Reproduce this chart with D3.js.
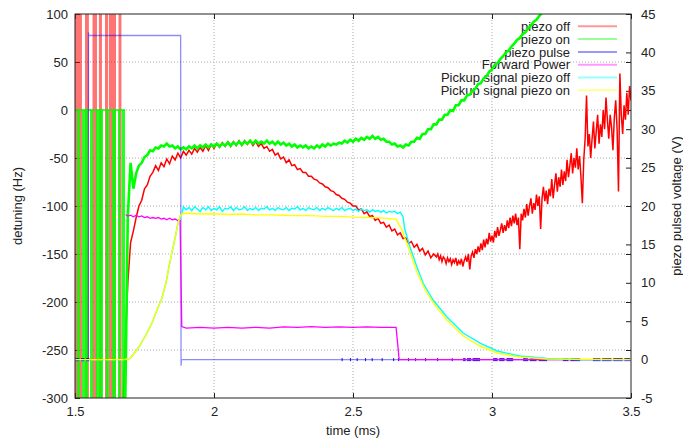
<!DOCTYPE html>
<html>
<head>
<meta charset="utf-8">
<script src="https://cdn.jsdelivr.net/npm/d3@7"></script>
<style>
  body { margin: 0; background: #fff; }
  text { font-family: "Liberation Sans", Arial, Helvetica, sans-serif; font-size: 13px; fill: #222; }
</style>
</head>
<body>
<div id="chart"></div>
<script>
// tick labels
const timeTicks = [1.5, 2, 2.5, 3, 3.5];
const detuningTicks = [-300, -250, -200, -150, -100, -50, 0, 50, 100];
const voltageTicks = [-5, 0, 5, 10, 15, 20, 25, 30, 35, 40, 45];

const legendNames = ["piezo off", "piezo on", "piezo pulse", "Forward Power",
  "Pickup signal piezo off", "Pickup signal piezo on"];
const legendColors = ["#ff0000", "#00ff00", "#0000ff", "#ff00ff", "#00ffff", "#ffff00"];

// before ~1.68 ms the detuning traces swing past the plot range: bands [t0, t1] in ms
const piezoOffBands = [[1.500, 1.525], [1.536, 1.550], [1.563, 1.579], [1.586, 1.597],
  [1.608, 1.619], [1.622, 1.6475], [1.6565, 1.667]];
const piezoOnBands = [[1.5072, 1.518], [1.525, 1.547], [1.554, 1.565], [1.5755, 1.6007],
  [1.6115, 1.6223], [1.633, 1.6475], [1.6547, 1.6619], [1.6673, 1.680]];

// piezo off detuning (Hz): from 1.67 ms every 0.01 ms ...
const piezoOffStartA = 1.67, piezoOffStepA = 0.01;
const piezoOffA = [
  -320, -250, -180, -138, -126, -112, -100, -94, -82, -78,
  -69, -65, -58, -63, -55, -59, -51, -56, -48, -52,
  -45, -50, -43, -47, -42, -46, -40, -44, -39, -43,
  -37, -42, -36, -40, -35, -39, -34, -38, -33, -38,
  -33, -37, -32, -37, -32, -36, -32, -37, -33, -38,
  -35, -40, -38, -43, -41, -47, -45, -51, -49, -55,
  -52, -58, -57, -62, -61, -65, -65, -69, -69, -72,
  -73, -76, -77, -80, -81, -84, -85, -88, -89, -92,
  -93, -96, -97, -100, -100, -104, -103, -108, -106, -111,
  -110, -115, -113, -118, -117, -122, -120, -126, -124, -130,
  -128, -134, -133, -139, -137, -143, -140, -147, -144, -151,
  -147, -154, -150
];
// ... then from 2.80 ms every 0.005 ms (noisier)
const piezoOffStartB = 2.80, piezoOffStepB = 0.005;
const piezoOffB = [
  -153, -150, -156, -152, -158, -153, -155, -160, -154, -158,
  -155, -161, -156, -159, -154, -162, -157, -160, -155, -163,
  -157, -153, -158, -150, -166, -152, -148, -154, -145, -150,
  -142, -148, -139, -146, -135, -143, -134, -140, -128, -137,
  -131, -138, -126, -133, -122, -131, -125, -118, -128, -120,
  -126, -115, -123, -112, -121, -110, -118, -108, -120, -112,
  -145, -108, -115, -103, -112, -98, -110, -100, -92, -108,
  -97, -104, -88, -100, -90, -124, -92, -80, -95, -84,
  -98, -82, -90, -72, -92, -78, -66, -85, -70, -80,
  -62, -78, -64, -74, -52, -70, -58, -45, -66, -50,
  -60, -40, -62, -48, -70, -97, -52, -30, 15, -38,
  -25, -50, -30, -12, -40, -22, -5, -35, -15, -28,
  0, -20, 13, -10, -30, -5, -18, -42, -8, 10,
  -20, -85, 38, -5, -25, 5, -10, 18, -5, 25,
  10
];

// piezo on detuning (Hz) from 1.68 ms every 0.01 ms
const piezoOnStart = 1.68, piezoOnStep = 0.01;
const piezoOn = [
  -320, -110, -55, -82, -66, -58, -55, -49, -47, -42,
  -43, -39, -40, -37, -38, -35, -38, -37, -40, -38,
  -41, -39, -41, -38, -40, -37, -40, -37, -39, -36,
  -39, -36, -38, -35, -38, -35, -37, -34, -37, -34,
  -36, -33, -36, -33, -35, -32, -35, -32, -35, -33,
  -35, -32, -35, -33, -36, -33, -36, -34, -37, -35,
  -38, -36, -39, -37, -39, -37, -40, -38, -40, -37,
  -39, -36, -38, -35, -37, -35, -36, -34, -35, -32,
  -34, -31, -33, -30, -32, -29, -31, -28, -30, -27,
  -30, -28, -31, -30, -33, -33, -36, -35, -38, -37,
  -39, -36, -37, -33, -33, -29, -30, -25, -25, -20,
  -20, -15, -15, -10, -10, -5, -5, 0, -1, 5,
  5, 10, 10, 15, 16, 20, 22, 27, 28, 33,
  35, 40, 42, 47, 49, 53, 56, 60, 62, 66,
  69, 73, 75, 79, 81, 85, 88, 92, 94, 98,
  101, 105, 109
];
// flat top of the early piezo on swings
const piezoOnFlat = [[1.5, 0], [1.68, 0]];

// piezo pulse (V)
const piezoPulse = [[1.5, 0], [1.548, 0], [1.5485, 42.6], [1.550, 42.2], [1.880, 42.2],
  [1.8815, -0.8], [1.883, 0], [3.5, 0]];
// short dark marks where the pulse trace jitters around 0 V: [t0, t1]
const pulseNoise = [[1.501, 1.5155], [1.5216, 1.5335], [1.5396, 1.5515],
  [2.459, 2.463], [2.489, 2.493], [2.513, 2.517], [2.543, 2.547], [2.567, 2.571],
  [2.603, 2.607], [2.644, 2.648], [2.662, 2.666], [2.698, 2.702], [2.723, 2.727],
  [2.759, 2.763], [2.802, 2.806], [2.855, 2.859], [2.896, 2.905], [2.910, 2.925],
  [2.930, 2.957], [3.004, 3.020], [3.026, 3.045], [3.052, 3.076], [3.112, 3.130],
  [3.136, 3.160], [3.168, 3.198], [3.255, 3.275], [3.282, 3.317], [3.363, 3.390],
  [3.396, 3.430], [3.436, 3.470], [3.476, 3.497]];

// forward power (V)
const forwardPower = [[1.682, 18.9], [1.69, 18.7], [1.70, 18.8], [1.71, 18.6], [1.72, 18.8],
  [1.73, 18.6], [1.74, 18.7], [1.75, 18.5], [1.76, 18.6], [1.77, 18.4], [1.78, 18.5],
  [1.79, 18.4], [1.80, 18.5], [1.81, 18.3], [1.82, 18.4], [1.83, 18.2], [1.84, 18.4],
  [1.85, 18.2], [1.86, 18.3], [1.87, 18.1], [1.878, 18.1], [1.884, 4.3], [1.90, 4.1],
  [1.95, 4.2], [2.00, 4.1], [2.05, 4.2], [2.10, 4.1], [2.15, 4.2], [2.20, 4.1],
  [2.25, 4.25], [2.30, 4.2], [2.35, 4.3], [2.40, 4.2], [2.45, 4.25], [2.50, 4.2],
  [2.55, 4.25], [2.60, 4.2], [2.655, 4.2], [2.666, 0], [3.5, 0]];

// pickup signals (V)
const pickupRise = [[1.5, 0], [1.676, 0], [1.698, 0.14], [1.730, 1.64], [1.755, 3.2],
  [1.777, 4.77], [1.795, 6.46], [1.813, 8.02], [1.827, 9.97], [1.838, 12.06],
  [1.849, 14.0], [1.860, 15.83], [1.870, 17.66], [1.878, 18.7], [1.885, 19.0]];
const pickupOffStart = 1.89, pickupOffStep = 0.01;
const pickupOffPlateau = [
  19.9, 19.5, 19.8, 19.4, 19.9, 19.6, 19.3, 19.8, 19.5, 19.9,
  19.4, 19.7, 19.5, 19.9, 19.3, 19.7, 19.6, 19.9, 19.4, 19.8,
  19.5, 19.6, 19.9, 19.4, 19.7, 19.5, 19.8, 19.4, 19.7, 19.6,
  19.9, 19.5, 19.7, 19.4, 19.8, 19.6, 19.5, 19.8, 19.4, 19.7,
  19.6, 19.9, 19.5, 19.7, 19.4, 19.8, 19.6, 19.5, 19.8, 19.4,
  19.7, 19.5, 19.8, 19.6, 19.4, 19.7, 19.5, 19.8, 19.4, 19.6,
  19.7, 19.4, 19.6, 19.3, 19.6, 19.4, 19.5, 19.2, 19.5, 19.3,
  19.4, 19.2, 19.4, 19.1, 19.3, 19.2, 19.3, 19.0, 19.2
];
const pickupOffDecay = [[2.680, 18.6], [2.686, 17.0], [2.705, 14.66], [2.730, 12.06],
  [2.752, 9.97], [2.788, 7.76], [2.838, 5.55], [2.896, 3.46], [2.957, 2.16],
  [3.018, 1.12], [3.100, 0.47], [3.198, 0.14], [3.317, 0.01], [3.5, 0]];
const pickupOnPlateau = [[1.885, 19.0], [1.90, 19.05], [1.95, 18.95], [2.00, 19.0],
  [2.05, 18.9], [2.10, 18.95], [2.15, 18.85], [2.20, 18.85], [2.25, 18.8], [2.30, 18.75],
  [2.35, 18.75], [2.40, 18.65], [2.45, 18.65], [2.50, 18.55], [2.55, 18.5], [2.60, 18.45],
  [2.655, 18.3]];
const pickupOnDecay = [[2.676, 16.9], [2.705, 14.0], [2.730, 11.4], [2.759, 9.06],
  [2.795, 7.1], [2.838, 5.16], [2.896, 3.07], [2.957, 1.77], [3.018, 0.86],
  [3.100, 0.34], [3.198, 0.08], [3.5, 0]];

const svgWidth = 683;
const svgHeight = 441;
const plot = {left: 75, right: 631, top: 14, bottom: 398};

const x = d3.scaleLinear().domain([1.5, 3.5]).range([plot.left, plot.right]);
const yL = d3.scaleLinear().domain([-300, 100]).range([plot.bottom, plot.top]);
const yR = d3.scaleLinear().domain([-5, 45]).range([plot.bottom, plot.top]);

function sampled(start, step, values) {
  return values.map((v, i) => [start + i * step, v]);
}

const svg = d3.select("#chart")
  .append("svg")
  .attr("width", svgWidth)
  .attr("height", svgHeight);

svg.append("clipPath")
  .attr("id", "clip")
  .append("rect")
  .attr("x", plot.left)
  .attr("y", plot.top)
  .attr("width", plot.right - plot.left)
  .attr("height", plot.bottom - plot.top);

// dotted grid
svg.append("g")
  .selectAll("line")
  .data(timeTicks.slice(1, -1)).enter()
  .append("line")
  .attr("x1", d => x(d)).attr("x2", d => x(d))
  .attr("y1", plot.top).attr("y2", plot.bottom)
  .style("stroke", "#aaa").style("stroke-dasharray", "1,2");

svg.append("g")
  .selectAll("line")
  .data(detuningTicks.slice(1, -1)).enter()
  .append("line")
  .attr("x1", plot.left).attr("x2", plot.right)
  .attr("y1", d => yL(d)).attr("y2", d => yL(d))
  .style("stroke", "#aaa").style("stroke-dasharray", "1,2");

// axes, ticks pointing inward
const noDomain = g => g.select(".domain").remove();

svg.append("g")
  .attr("transform", `translate(0,${plot.bottom})`)
  .call(d3.axisBottom(x).tickValues(timeTicks).tickFormat(d => String(d))
    .tickSizeInner(-5).tickSizeOuter(0).tickPadding(9))
  .call(noDomain);

svg.append("g")
  .attr("transform", `translate(0,${plot.top})`)
  .call(d3.axisTop(x).tickValues(timeTicks).tickFormat("")
    .tickSizeInner(-5).tickSizeOuter(0))
  .call(noDomain);

svg.append("g")
  .attr("transform", `translate(${plot.left},0)`)
  .call(d3.axisLeft(yL).tickValues(detuningTicks).tickFormat(d => String(d))
    .tickSizeInner(-5).tickSizeOuter(0).tickPadding(7))
  .call(noDomain);

svg.append("g")
  .attr("transform", `translate(${plot.right},0)`)
  .call(d3.axisRight(yL).tickValues(detuningTicks).tickFormat("")
    .tickSizeInner(-5).tickSizeOuter(0))
  .call(noDomain);

svg.append("g")
  .attr("transform", `translate(${plot.right},0)`)
  .call(d3.axisRight(yR).tickValues(voltageTicks).tickFormat(d => String(d))
    .tickSizeInner(-5).tickSizeOuter(0).tickPadding(10))
  .call(noDomain);

svg.selectAll(".tick line").style("stroke", "#222");
svg.selectAll(".tick text")
  .style("font-family", "'Liberation Sans', Arial, Helvetica, sans-serif")
  .style("font-size", "13px")
  .style("fill", "#222");

// axis titles
svg.append("text")
  .attr("x", (plot.left + plot.right) / 2)
  .attr("y", 435)
  .style("text-anchor", "middle")
  .text("time (ms)");

svg.append("text")
  .attr("transform", `translate(22,${(plot.top + plot.bottom) / 2}) rotate(-90)`)
  .style("text-anchor", "middle")
  .text("detuning (Hz)");

svg.append("text")
  .attr("transform", `translate(681,${(plot.top + plot.bottom) / 2}) rotate(-90)`)
  .style("text-anchor", "middle")
  .text("piezo pulsed voltage (V)");

// key (drawn before the traces, which run over it)
const key = svg.append("g");
key.selectAll("text")
  .data(legendNames).enter()
  .append("text")
  .attr("x", 570)
  .attr("y", (d, i) => 31 + i * 12.8)
  .style("text-anchor", "end")
  .text(d => d);
key.selectAll("line")
  .data(legendColors).enter()
  .append("line")
  .attr("x1", 578).attr("x2", 617)
  .attr("y1", (d, i) => 26.3 + i * 12.8)
  .attr("y2", (d, i) => 26.3 + i * 12.8)
  .style("stroke", d => d)
  .style("stroke-width", 2)
  .style("opacity", 0.4);

// traces
const traces = svg.append("g").attr("clip-path", "url(#clip)");
const lineL = d3.line().x(d => x(d[0])).y(d => yL(d[1]));
const lineR = d3.line().x(d => x(d[0])).y(d => yR(d[1]));

// piezo off
traces.selectAll(".offBand")
  .data(piezoOffBands).enter()
  .append("rect")
  .attr("class", "offBand")
  .attr("x", d => x(d[0]))
  .attr("width", d => x(d[1]) - x(d[0]))
  .attr("y", yL(100))
  .attr("height", yL(-300) - yL(100))
  .style("fill", "#ff0000")
  .style("opacity", 0.55);

traces.append("path")
  .datum(sampled(piezoOffStartA, piezoOffStepA, piezoOffA)
    .concat(sampled(piezoOffStartB, piezoOffStepB, piezoOffB)))
  .attr("d", lineL)
  .style("fill", "none")
  .style("stroke", "#ff0000")
  .style("stroke-width", 1.5);

// piezo on
traces.selectAll(".onBand")
  .data(piezoOnBands).enter()
  .append("rect")
  .attr("class", "onBand")
  .attr("x", d => x(d[0]))
  .attr("width", d => x(d[1]) - x(d[0]))
  .attr("y", yL(0))
  .attr("height", yL(-300) - yL(0))
  .style("fill", "#00ff00")
  .style("opacity", 0.85);

traces.append("path")
  .datum(piezoOnFlat)
  .attr("d", lineL)
  .style("fill", "none")
  .style("stroke", "#00ff00")
  .style("stroke-width", 1.5);

traces.append("path")
  .datum(sampled(piezoOnStart, piezoOnStep, piezoOn))
  .attr("d", lineL)
  .style("fill", "none")
  .style("stroke", "#00ff00")
  .style("stroke-width", 2.6);

// piezo pulse
traces.append("path")
  .datum(piezoPulse)
  .attr("d", lineR)
  .style("fill", "none")
  .style("stroke", "#0000ff")
  .style("stroke-width", 1.3)
  .style("opacity", 0.45);

traces.selectAll(".pulseNoise")
  .data(pulseNoise).enter()
  .append("rect")
  .attr("class", "pulseNoise")
  .attr("x", d => x(d[0]))
  .attr("width", d => Math.max(1, x(d[1]) - x(d[0])))
  .attr("y", yR(0.2))
  .attr("height", yR(-0.2) - yR(0.2))
  .style("fill", "#0000dd")
  .style("opacity", 0.85);

// forward power
traces.append("path")
  .datum(forwardPower)
  .attr("d", lineR)
  .style("fill", "none")
  .style("stroke", "#ff00ff")
  .style("stroke-width", 1.3);

// pickup piezo off
traces.append("path")
  .datum(pickupRise
    .concat(sampled(pickupOffStart, pickupOffStep, pickupOffPlateau))
    .concat(pickupOffDecay))
  .attr("d", lineR)
  .style("fill", "none")
  .style("stroke", "#00ffff")
  .style("stroke-width", 1.4);

// pickup piezo on
traces.append("path")
  .datum(pickupRise.concat(pickupOnPlateau).concat(pickupOnDecay))
  .attr("d", lineR)
  .style("fill", "none")
  .style("stroke", "#ffff00")
  .style("stroke-width", 1.4);

// border
svg.append("rect")
  .attr("x", plot.left)
  .attr("y", plot.top)
  .attr("width", plot.right - plot.left)
  .attr("height", plot.bottom - plot.top)
  .style("fill", "none")
  .style("stroke", "#222")
  .style("stroke-width", 1);
</script>
</body>
</html>
